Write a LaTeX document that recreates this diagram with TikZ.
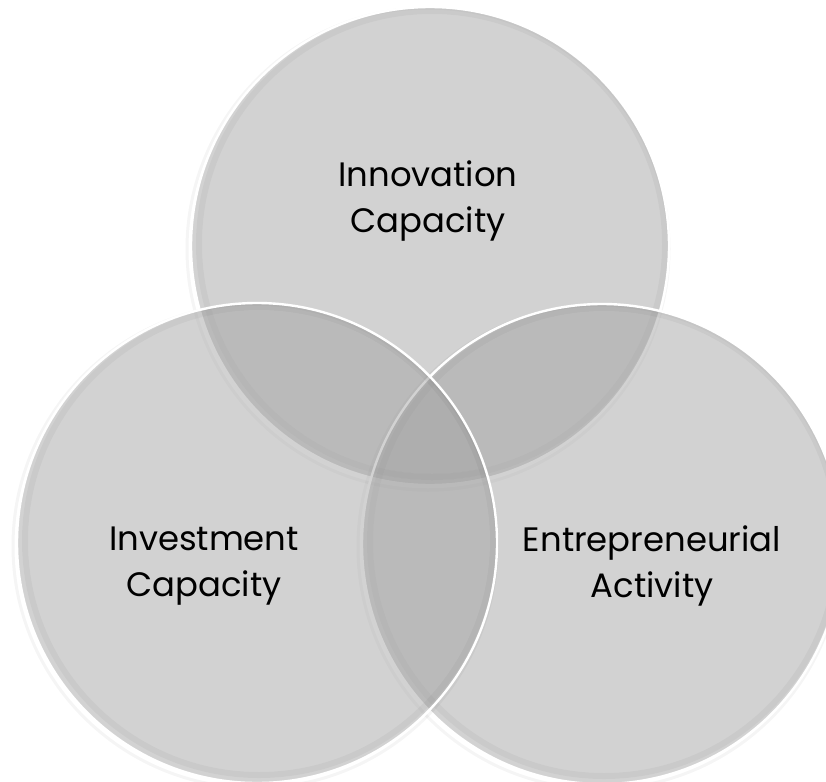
\documentclass[tikz,border=0pt]{standalone}
\usepackage{fontspec}
\setmainfont{Poppins}
\definecolor{cfill}{gray}{0.623}
\tikzset{
  vfill/.style={fill=cfill, fill opacity=0.467},
  rim/.style={draw=white, line width=2.4bp},
  bevel/.style={draw=black, draw opacity=0.035, line width=6bp},
  halo/.style={draw=black, draw opacity=0.04, line width=3bp},
  lbl/.style={align=center, text=black, font=\fontsize{34}{46}\selectfont, inner sep=0pt}
}
\begin{document}
\begin{tikzpicture}[x=1bp,y=-1bp]
\useasboundingbox (0,0) rectangle (826,782);
\coordinate (ct) at (430,246);
\coordinate (cr) at (602,544);
\coordinate (cl) at (257,543);
% top circle (back)
\draw[halo] ([shift={(-2,3)}]ct) circle[radius=241];
\fill[vfill] (ct) circle[radius=239];
\draw[bevel] ([shift={(2,-2)}]ct) circle[radius=233];
\draw[rim] (ct) circle[radius=239];
% right circle
\draw[halo] ([shift={(-2,3)}]cr) circle[radius=242];
\fill[vfill] (cr) circle[radius=240];
\draw[bevel] ([shift={(2,-2)}]cr) circle[radius=234];
\draw[rim] (cr) circle[radius=240];
% left circle (front)
\draw[halo] ([shift={(-2,3)}]cl) circle[radius=242];
\fill[vfill] (cl) circle[radius=240];
\draw[bevel] ([shift={(2,-2)}]cl) circle[radius=234];
\draw[rim] (cl) circle[radius=240];
\node[lbl] (inn) at (428,201) {Innovation\\Capacity};
\node[lbl] (inv) at (204,566) {Investment\\Capacity};
\node[lbl] (ent) at (652,566) {Entrepreneurial\\Activity};
\end{tikzpicture}
\end{document}
